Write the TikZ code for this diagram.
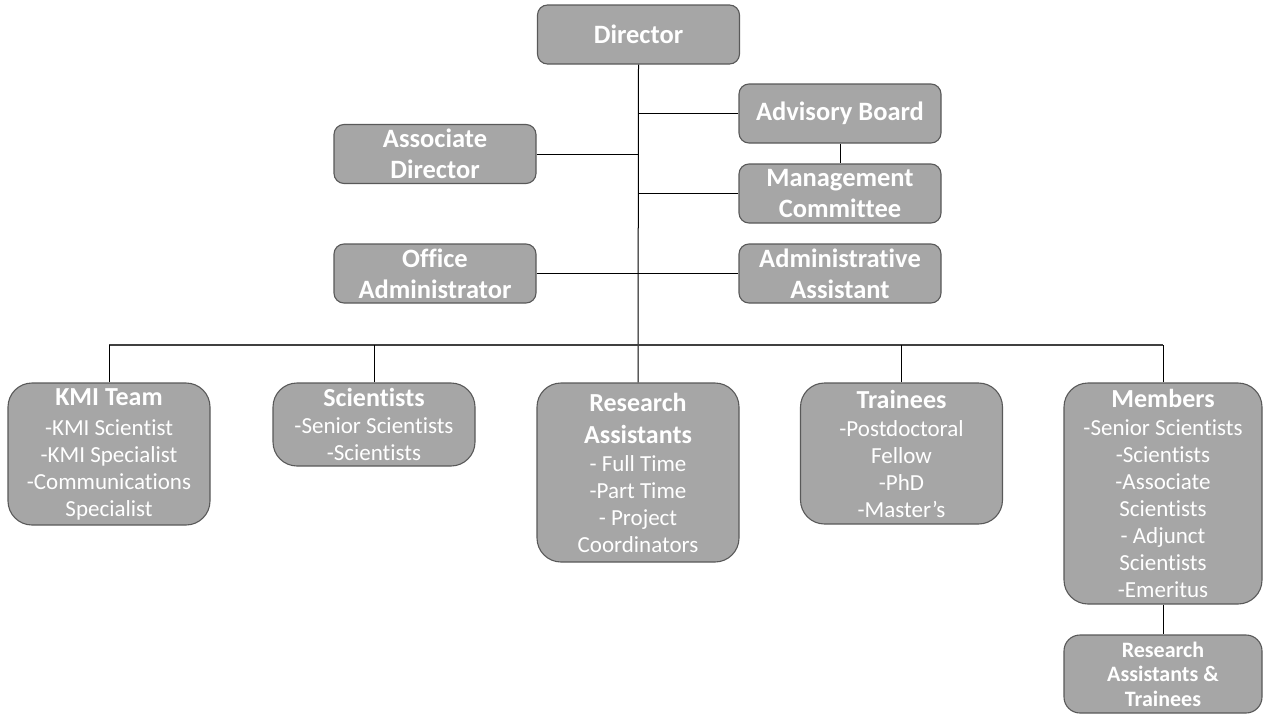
\documentclass[tikz,border=0pt]{standalone}
\usepackage{fontspec}
\setmainfont{Carlito}[Ligatures={NoCommon}]
\begin{document}
\begin{tikzpicture}[x=1pt,y=-1pt,
  box/.style={draw=boxline, fill=boxfill, line width=1.1pt, text=white,
    align=center, inner sep=0pt, minimum width=202pt},
  topbox/.style={box, rounded corners=10pt, minimum height=59pt,
    font=\fontsize{26.5}{31}\selectfont\bfseries},
  lowbox/.style={box, rounded corners=24pt,
    font=\fontsize{23}{27}\selectfont},
  link/.style={draw=black, line width=1pt}]
\definecolor{boxfill}{HTML}{A6A6A6}
\definecolor{boxline}{HTML}{595959}
\newcommand{\ttl}[1]{{\fontsize{26}{30}\selectfont\bfseries #1}}
\useasboundingbox (0,0) rectangle (1264,715);

% leadership
\node[topbox] (director)  at (638.5,34.5) {Director};
\node[topbox] (advisory)  at (840,113.5)  {Advisory Board};
\node[topbox] (associate) at (435,154)    {Associate\\Director};
\node[topbox] (mgmt)      at (840,193.5)  {Management\\Committee};
\node[topbox] (office)    at (435,273.5)  {Office\\Administrator};
\node[topbox] (adminasst) at (840,273.5)  {Administrative\\Assistant};

% groups
\node[lowbox, minimum height=142pt] (kmi) at (109,454)
  {\ttl{KMI Team}\\[3pt]-KMI Scientist\\-KMI Specialist\\-Communications\\Specialist};
\node[lowbox, minimum height=83pt] (sci) at (374,424.5)
  {\ttl{Scientists}\\[0pt]-Senior Scientists\\-Scientists};
\node[lowbox, minimum height=179pt] (ra) at (638,472.5)
  {\ttl{Research}\\[5pt]\ttl{Assistants}\\[1pt]- Full Time\\-Part Time\\- Project\\Coordinators};
\node[lowbox, minimum height=141pt] (trainees) at (901.5,453.5)
  {\ttl{Trainees}\\[1pt]-Postdoctoral\\Fellow\\-PhD\\-Master’s};
\node[lowbox, minimum width=198pt, minimum height=221pt] (members) at (1163,493.5)
  {\ttl{Members}\\[1pt]-Senior Scientists\\-Scientists\\-Associate\\Scientists\\- Adjunct\\Scientists\\-Emeritus};
\node[box, rounded corners=16pt, minimum width=198pt, minimum height=78pt,
  font=\fontsize{22}{24.5}\selectfont\bfseries] (rat) at (1163,674)
  {Research\\Assistants \&\\Trainees};

% trunk and side branches
\coordinate (bus) at (638,345);
\draw[link] (director.south) -- (ra.north);
\draw[link] (advisory.west) -- (advisory.west -| director.south);
\draw[link] (associate.east) -- (associate.east -| director.south);
\draw[link] (mgmt.west) -- (mgmt.west -| director.south);
\draw[link] (office.east) -- (adminasst.west);
\draw[link] (advisory.south) -- (mgmt.north);

% horizontal bus to the groups
\draw[link, draw=black!75, line width=1.5pt] (kmi.north |- bus) -- (members.north |- bus);
\draw[link] (kmi.north) -- (kmi.north |- bus);
\draw[link] (sci.north) -- (sci.north |- bus);
\draw[link] (trainees.north) -- (trainees.north |- bus);
\draw[link] (members.north) -- (members.north |- bus);
\draw[link] (members.south) -- (rat.north);
\end{tikzpicture}
\end{document}
